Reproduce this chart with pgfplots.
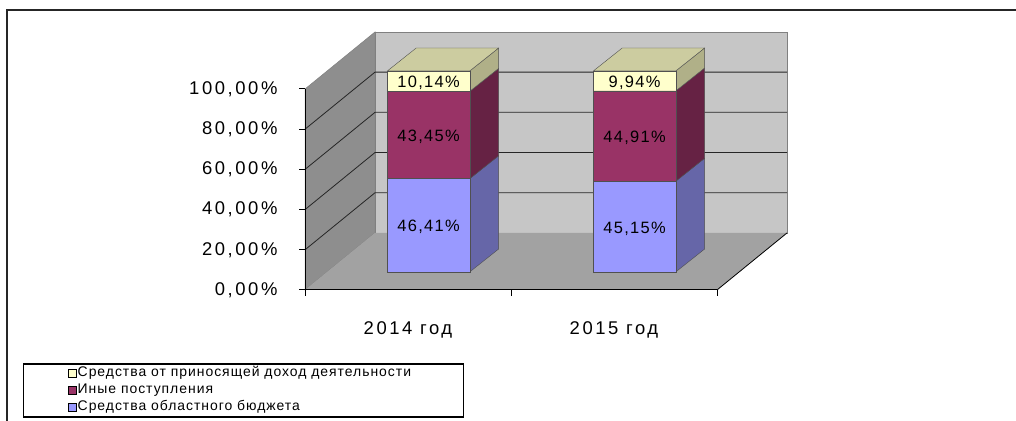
\documentclass[border=0pt]{standalone}
\usepackage{fontspec}
\setmainfont{Liberation Sans}
\usepackage{pgfplots}
\usepackage{pgfplotstable}
\pgfplotsset{compat=1.18}
\definecolor{wallL}{HTML}{8E8E8E}
\definecolor{wallB}{HTML}{C6C6C6}
\definecolor{floorc}{HTML}{A2A2A2}
\definecolor{blueF}{HTML}{9999FF}
\definecolor{blueS}{HTML}{6666A8}
\definecolor{purF}{HTML}{993366}
\definecolor{purS}{HTML}{662244}
\definecolor{yelF}{HTML}{FFFFCC}
\definecolor{yelS}{HTML}{B0B088}
\definecolor{yelT}{HTML}{CCCCA0}
\definecolor{edge}{HTML}{505050}
\newcommand\tickfont{\fontsize{18.5}{20}\selectfont\addfontfeatures{LetterSpace=14}}
\newcommand\labfont{\fontsize{16.5}{18}\selectfont\addfontfeatures{LetterSpace=8}}
\newcommand\legfont{\fontsize{14}{16}\selectfont\addfontfeatures{LetterSpace=7}}
\pgfplotstableread{
x    blue   purple yellow
0.5  46.41  43.45  10.14
1.5  45.15  44.91  9.94
}\shares
\begin{document}
\begin{tikzpicture}
\useasboundingbox (0,0) rectangle (1016bp,421bp);
\draw[line width=2bp, black!85] (7bp,0) -- (7bp,411bp) -- (1016bp,411bp);
\begin{axis}[
  at={(305bp,131bp)}, anchor=south west,
  x=206bp, y=2.01bp,
  xmin=0, xmax=2, ymin=0, ymax=100,
  clip=false, axis on top,
  axis x line*=bottom, axis y line*=left,
  axis line style={black, line width=1bp},
  /pgf/number format/assume math mode=true,
  ytick={0,20,40,60,80,100},
  yticklabel={\pgfmathprintnumber[fixed,fixed zerofill,precision=2,use comma]{\tick}\%},
  xtick={0,1,2}, xticklabels={},
  extra x ticks={0.5,1.5},
  extra x tick labels={2014 год, 2015 год},
  extra x tick style={major tick length=0pt},
  tick align=outside,
  major tick length=6bp,
  tick style={black, line width=1bp},
  ticklabel style={font=\tickfont},
  xticklabel style={yshift=-28bp},
  yticklabel style={xshift=-18bp},
]
% walls and floor
\addplot[fill=wallL, draw=gray, line width=0.5bp] coordinates {(0,0) (0,100) (0.34,128.4) (0.34,28.4)} -- cycle;
\addplot[fill=wallB, draw=gray, line width=0.5bp] coordinates {(0.34,28.4) (2.34,28.4) (2.34,128.4) (0.34,128.4)} -- cycle;
\addplot[fill=floorc, draw=none] coordinates {(0,0) (2,0) (2.34,28.4) (0.34,28.4)} -- cycle;
\addplot[black, line width=0.8bp] coordinates {(2,0) (2.34,28.4)};
% gridlines
\addplot[black!85, line width=0.8bp] coordinates {(0,20) (0.34,48.4) (2.34,48.4)};
\addplot[black!85, line width=0.8bp] coordinates {(0,40) (0.34,68.4) (2.34,68.4)};
\addplot[black!85, line width=0.8bp] coordinates {(0,60) (0.34,88.4) (2.34,88.4)};
\addplot[black!85, line width=0.8bp] coordinates {(0,80) (0.34,108.4) (2.34,108.4)};
% bar sides and tops (2014)
\addplot[fill=blueS, draw=edge, line width=0.4bp] coordinates {(0.8,9) (0.94,20.4) (0.94,66.81) (0.8,55.41)} -- cycle;
\addplot[fill=purS, draw=edge, line width=0.4bp] coordinates {(0.8,55.41) (0.94,66.81) (0.94,110.26) (0.8,98.86)} -- cycle;
\addplot[fill=yelS, draw=edge, line width=0.4bp] coordinates {(0.8,98.86) (0.94,110.26) (0.94,120.4) (0.8,109)} -- cycle;
\addplot[fill=yelT, draw=edge, line width=0.4bp] coordinates {(0.4,109) (0.8,109) (0.94,120.4) (0.54,120.4)} -- cycle;
% bar sides and tops (2015)
\addplot[fill=blueS, draw=edge, line width=0.4bp] coordinates {(1.8,9) (1.94,20.4) (1.94,65.55) (1.8,54.15)} -- cycle;
\addplot[fill=purS, draw=edge, line width=0.4bp] coordinates {(1.8,54.15) (1.94,65.55) (1.94,110.46) (1.8,99.06)} -- cycle;
\addplot[fill=yelS, draw=edge, line width=0.4bp] coordinates {(1.8,99.06) (1.94,110.46) (1.94,120.4) (1.8,109)} -- cycle;
\addplot[fill=yelT, draw=edge, line width=0.4bp] coordinates {(1.4,109) (1.8,109) (1.94,120.4) (1.54,120.4)} -- cycle;
\end{axis}
\begin{axis}[
  at={(325.6bp,149.09bp)}, anchor=south west,
  x=206bp, y=2.01bp,
  xmin=0, xmax=2, ymin=0, ymax=100,
  hide axis, clip=false,
  ybar stacked, bar width=82.4bp,
  point meta=explicit symbolic,
  nodes near coords={\pgfmathprintnumber[fixed,fixed zerofill,precision=2,use comma,assume math mode=true]{\pgfplotspointmeta}\%},
  every node near coord/.append style={anchor=center, font=\labfont, text=black, inner sep=0pt, yshift=-2bp},
  legend style={at={(-0.7345,-0.4532)}, anchor=north west, draw=black, line width=1.5bp,
    font=\legfont, inner xsep=0pt, inner ysep=1bp, row sep=0pt,
    nodes={inner xsep=1.5bp, inner ysep=2bp, text height=10bp, text depth=3bp}},
  legend cell align=left,
  reverse legend,
  legend image code/.code={\path (-44bp,0bp); \draw[#1, draw=black, line width=0.6bp] (0bp,-4bp) rectangle (8bp,4bp);},
]
\addplot[fill=blueF, draw=edge, line width=0.4bp] table[x=x, y=blue, meta=blue] {\shares};
\addlegendentry{Средства областного бюджета}
\addplot[fill=purF, draw=edge, line width=0.4bp] table[x=x, y=purple, meta=purple] {\shares};
\addlegendentry{Иные поступления}
\addplot[fill=yelF, draw=edge, line width=0.4bp] table[x=x, y=yellow, meta=yellow] {\shares};
\addlegendentry{Средства от приносящей доход деятельности\hspace*{51bp}}
\end{axis}
\end{tikzpicture}
\end{document}
